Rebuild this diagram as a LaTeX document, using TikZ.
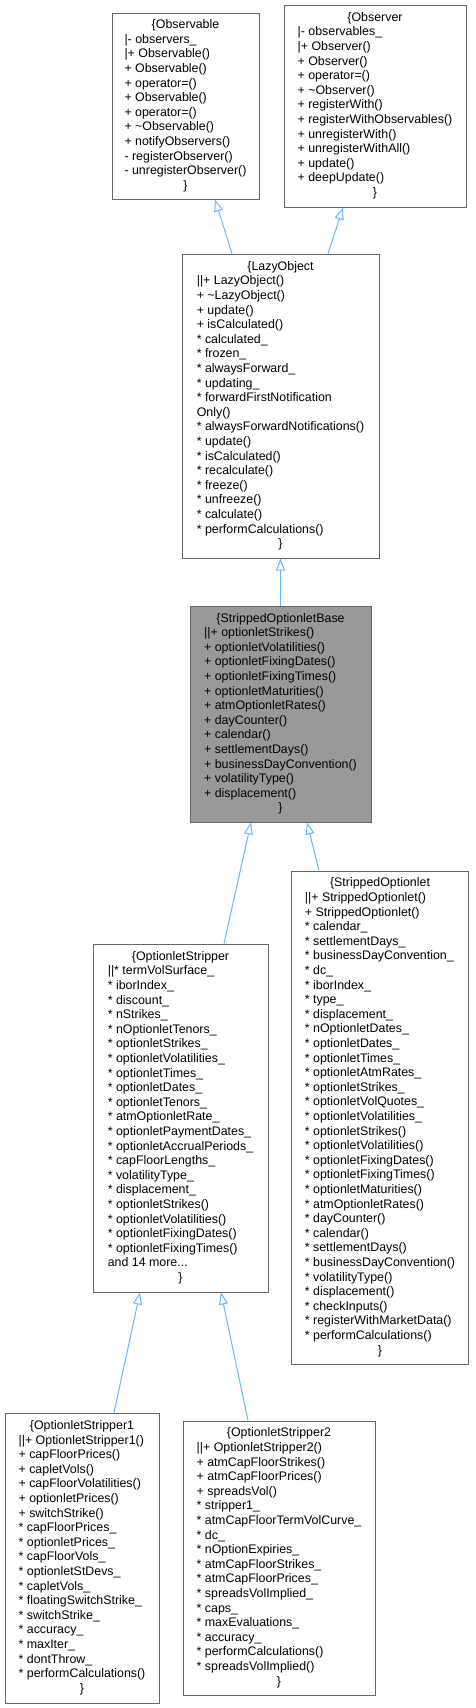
\documentclass[tikz,border=0pt]{standalone}
\usepackage{fontspec}
\setmainfont{Liberation Sans}
\usetikzlibrary{arrows.meta}
\definecolor{boxline}{HTML}{666666}
\definecolor{basefill}{HTML}{999999}
\definecolor{edgeblue}{HTML}{63B8FF}
\newcommand{\hd}[1]{\multicolumn{1}{@{}c@{}}{#1}}
\newcommand{\tl}{\textasciitilde{}}
\newcommand{\st}{{*}}
\tikzset{
  cls/.style={draw=boxline, line width=1pt, fill=white, inner sep=0pt, rectangle,
    font=\fontsize{12.4}{14.6}\selectfont},
  basecls/.style={cls, fill=basefill},
  inh/.style={draw=edgeblue, line width=1pt, -{Triangle[length=12pt,width=9pt,fill=white]}}
}
\begin{document}
\begin{tikzpicture}[x=1pt,y=-1pt]
\useasboundingbox (0,0) rectangle (475,1708);

\node[cls, minimum width=147pt, minimum height=186pt] (obs) at (185.5,106) {\begin{tabular}{@{}l@{}}
\hd{\{Observable}\\
|- observers\_\\
|+ Observable()\\
+ Observable()\\
+ operator=()\\
+ Observable()\\
+ operator=()\\
+ \tl Observable()\\
+ notifyObservers()\\
- registerObserver()\\
- unregisterObserver()\\
\hd{\}}
\end{tabular}};

\node[cls, minimum width=182pt, minimum height=202pt] (obsr) at (375,106) {\begin{tabular}{@{}l@{}}
\hd{\{Observer}\\
|- observables\_\\
|+ Observer()\\
+ Observer()\\
+ operator=()\\
+ \tl Observer()\\
+ registerWith()\\
+ registerWithObservables()\\
+ unregisterWith()\\
+ unregisterWithAll()\\
+ update()\\
+ deepUpdate()\\
\hd{\}}
\end{tabular}};

\node[cls, minimum width=197pt, minimum height=304pt] (lazy) at (280.5,406) {\begin{tabular}{@{}l@{}}
\hd{\{LazyObject}\\
||+ LazyObject()\\
+ \tl LazyObject()\\
+ update()\\
+ isCalculated()\\
\st{} calculated\_\\
\st{} frozen\_\\
\st{} alwaysForward\_\\
\st{} updating\_\\
\st{} forwardFirstNotification\\
Only()\\
\st{} alwaysForwardNotifications()\\
\st{} update()\\
\st{} isCalculated()\\
\st{} recalculate()\\
\st{} freeze()\\
\st{} unfreeze()\\
\st{} calculate()\\
\st{} performCalculations()\\
\hd{\}}
\end{tabular}};

\node[basecls, minimum width=181pt, minimum height=216pt] (sob) at (280.5,714) {\begin{tabular}{@{}l@{}}
\hd{\{StrippedOptionletBase}\\
||+ optionletStrikes()\\
+ optionletVolatilities()\\
+ optionletFixingDates()\\
+ optionletFixingTimes()\\
+ optionletMaturities()\\
+ atmOptionletRates()\\
+ dayCounter()\\
+ calendar()\\
+ settlementDays()\\
+ businessDayConvention()\\
+ volatilityType()\\
+ displacement()\\
\hd{\}}
\end{tabular}};

\node[cls, minimum width=175pt, minimum height=348pt] (os) at (180.5,1118) {\begin{tabular}{@{}l@{}}
\hd{\{OptionletStripper}\\
||\st{} termVolSurface\_\\
\st{} iborIndex\_\\
\st{} discount\_\\
\st{} nStrikes\_\\
\st{} nOptionletTenors\_\\
\st{} optionletStrikes\_\\
\st{} optionletVolatilities\_\\
\st{} optionletTimes\_\\
\st{} optionletDates\_\\
\st{} optionletTenors\_\\
\st{} atmOptionletRate\_\\
\st{} optionletPaymentDates\_\\
\st{} optionletAccrualPeriods\_\\
\st{} capFloorLengths\_\\
\st{} volatilityType\_\\
\st{} displacement\_\\
\st{} optionletStrikes()\\
\st{} optionletVolatilities()\\
\st{} optionletFixingDates()\\
\st{} optionletFixingTimes()\\
and 14 more...\\
\hd{\}}
\end{tabular}};

\node[cls, minimum width=177pt, minimum height=493pt] (so) at (380,1117.5) {\begin{tabular}{@{}l@{}}
\hd{\{StrippedOptionlet}\\
||+ StrippedOptionlet()\\
+ StrippedOptionlet()\\
\st{} calendar\_\\
\st{} settlementDays\_\\
\st{} businessDayConvention\_\\
\st{} dc\_\\
\st{} iborIndex\_\\
\st{} type\_\\
\st{} displacement\_\\
\st{} nOptionletDates\_\\
\st{} optionletDates\_\\
\st{} optionletTimes\_\\
\st{} optionletAtmRates\_\\
\st{} optionletStrikes\_\\
\st{} optionletVolQuotes\_\\
\st{} optionletVolatilities\_\\
\st{} optionletStrikes()\\
\st{} optionletVolatilities()\\
\st{} optionletFixingDates()\\
\st{} optionletFixingTimes()\\
\st{} optionletMaturities()\\
\st{} atmOptionletRates()\\
\st{} dayCounter()\\
\st{} calendar()\\
\st{} settlementDays()\\
\st{} businessDayConvention()\\
\st{} volatilityType()\\
\st{} displacement()\\
\st{} checkInputs()\\
\st{} registerWithMarketData()\\
\st{} performCalculations()\\
\hd{\}}
\end{tabular}};

\node[cls, minimum width=154pt, minimum height=290pt] (os1) at (82,1558) {\begin{tabular}{@{}l@{}}
\hd{\{OptionletStripper1}\\
||+ OptionletStripper1()\\
+ capFloorPrices()\\
+ capletVols()\\
+ capFloorVolatilities()\\
+ optionletPrices()\\
+ switchStrike()\\
\st{} capFloorPrices\_\\
\st{} optionletPrices\_\\
\st{} capFloorVols\_\\
\st{} optionletStDevs\_\\
\st{} capletVols\_\\
\st{} floatingSwitchStrike\_\\
\st{} switchStrike\_\\
\st{} accuracy\_\\
\st{} maxIter\_\\
\st{} dontThrow\_\\
\st{} performCalculations()\\
\hd{\}}
\end{tabular}};

\node[cls, minimum width=192pt, minimum height=274pt] (os2) at (279,1558) {\begin{tabular}{@{}l@{}}
\hd{\{OptionletStripper2}\\
||+ OptionletStripper2()\\
+ atmCapFloorStrikes()\\
+ atmCapFloorPrices()\\
+ spreadsVol()\\
\st{} stripper1\_\\
\st{} atmCapFloorTermVolCurve\_\\
\st{} dc\_\\
\st{} nOptionExpiries\_\\
\st{} atmCapFloorStrikes\_\\
\st{} atmCapFloorPrices\_\\
\st{} spreadsVolImplied\_\\
\st{} caps\_\\
\st{} maxEvaluations\_\\
\st{} accuracy\_\\
\st{} performCalculations()\\
\st{} spreadsVolImplied()\\
\hd{\}}
\end{tabular}};

\draw[inh] ([xshift=-48.5pt]lazy.north) -- ([xshift=29.5pt]obs.south);
\draw[inh] ([xshift=47.5pt]lazy.north) -- ([xshift=-32pt]obsr.south);
\draw[inh] (sob.north) -- (lazy.south);
\draw[inh] ([xshift=43.5pt]os.north) -- ([xshift=-29.5pt]sob.south);
\draw[inh] ([xshift=-61pt]so.north) -- ([xshift=26.5pt]sob.south);
\draw[inh] ([xshift=32pt]os1.north) -- ([xshift=-40.5pt]os.south);
\draw[inh] ([xshift=-31pt]os2.north) -- ([xshift=40.5pt]os.south);
\end{tikzpicture}
\end{document}
